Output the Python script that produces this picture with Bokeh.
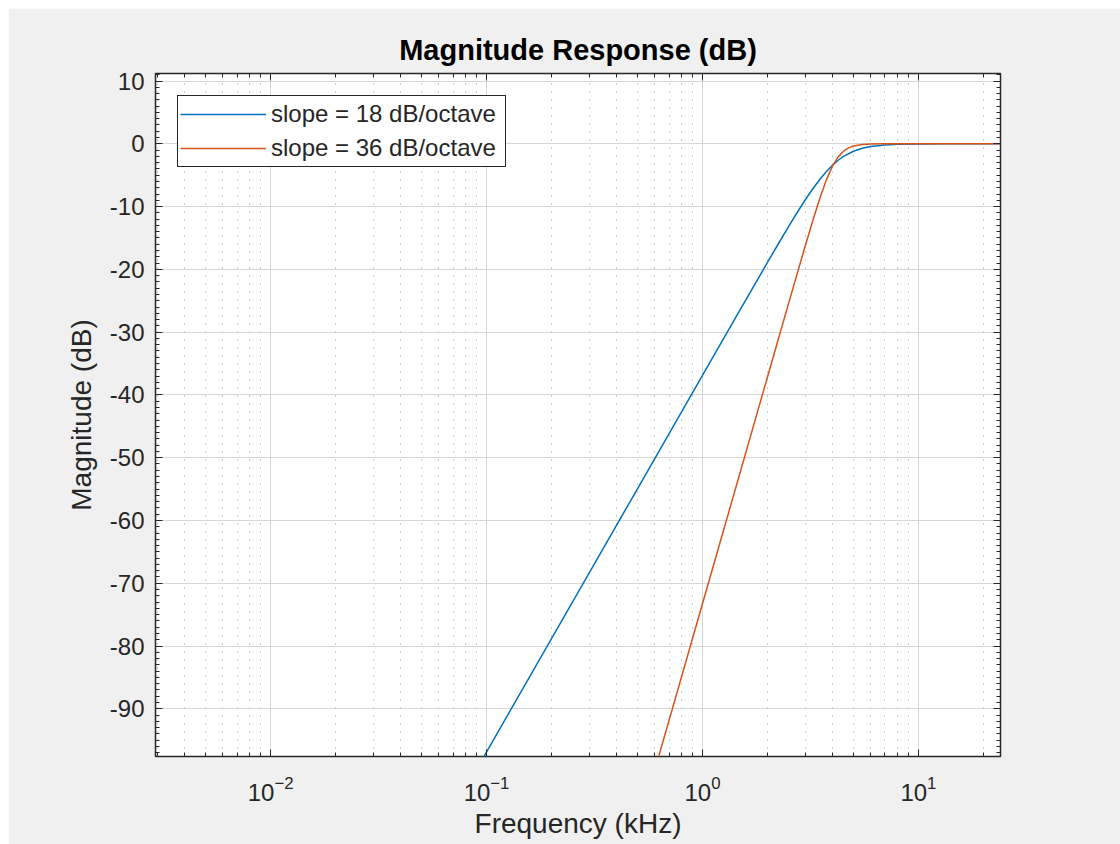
from bokeh.plotting import figure
from bokeh.models import (LogAxis, LinearAxis, FixedTicker, Legend, LegendItem,
                          Range1d)
from bokeh.embed import file_html
from bokeh.resources import INLINE

# ---- data (frequency in kHz, magnitude in dB) ----
freq_18 = [0.08, 0.5, 1.0, 1.25, 1.5, 2.0, 2.25, 2.5, 2.75, 3.0, 3.25, 3.5, 3.75,
           4.0, 4.25, 4.5, 5.0, 5.5, 6.0, 7.0, 8.0, 10.0, 14.0, 24.0]
mag_18 = [-102.7, -54.95, -36.89, -31.08, -26.34, -18.89, -15.88, -13.23, -10.90,
          -8.87, -7.12, -5.64, -4.41, -3.41, -2.62, -2.01, -1.18, -0.71, -0.43,
          -0.18, -0.08, -0.02, 0.0, 0.0]

freq_36 = [0.6, 1.0, 1.5, 2.0, 2.25, 2.5, 2.75, 3.0, 3.25, 3.5, 3.75, 4.0, 4.25,
           4.5, 4.75, 5.0, 5.5, 6.0, 7.0, 8.0, 24.0]
mag_36 = [-99.9, -73.28, -52.15, -37.15, -31.02, -25.54, -20.60, -16.13, -12.13,
          -8.63, -5.74, -3.56, -2.08, -1.17, -0.65, -0.36, -0.12, -0.04, -0.01,
          0.0, 0.0]

series_labels = ["slope = 18 dB/octave", "slope = 36 dB/octave"]
x_major = [0.001, 0.01, 0.1, 1.0, 10.0, 100.0]
y_major = [-90, -80, -70, -60, -50, -40, -30, -20, -10, 0, 10]

FONT = "Liberation Sans"
DARK = "#262626"

x_minor = [m * 10.0 ** e for e in range(-3, 2) for m in range(2, 10)]
y_minor = list(range(-97, 12))

xticker = FixedTicker(ticks=x_major, minor_ticks=x_minor)
yticker = FixedTicker(ticks=y_major, minor_ticks=y_minor)

p = figure(width=1112, height=836, x_axis_type="log",
           x_range=Range1d(0.00293, 24.0), y_range=Range1d(-97.6, 11.2),
           output_backend="svg", toolbar_location=None,
           min_border_left=147, min_border_right=120,
           min_border_top=65, min_border_bottom=88,
           background_fill_color="white", border_fill_color="#f0f0f0",
           outline_line_color=DARK, outline_line_width=1.5)
p.margin = (8, 0, 0, 8)

p.title.text = "Magnitude Response (dB)"
p.title.align = "center"
p.title.text_font = FONT
p.title.text_font_size = "29px"
p.title.text_font_style = "bold"
p.title.text_color = "#000000"
p.title.standoff = 16


def style_axis(ax, show_labels):
    ax.axis_line_color = None
    ax.major_tick_line_color = DARK
    ax.minor_tick_line_color = DARK
    ax.major_tick_in = 7
    ax.major_tick_out = 0
    ax.minor_tick_in = 4
    ax.minor_tick_out = 0
    ax.major_tick_line_width = 1
    ax.minor_tick_line_width = 1
    ax.major_label_text_font = FONT
    if show_labels:
        ax.major_label_text_font_size = "24px"
        ax.major_label_text_color = DARK
    else:
        ax.major_label_text_font_size = "8px"
        ax.major_label_text_color = None
        ax.major_label_standoff = 0


xa = p.xaxis[0]
xa.ticker = xticker
style_axis(xa, True)
xa.major_label_standoff = 19
xa.axis_label = "Frequency (kHz)"
xa.axis_label_text_font = FONT
xa.axis_label_text_font_size = "28px"
xa.axis_label_text_font_style = "normal"
xa.axis_label_text_color = DARK
xa.axis_label_standoff = 4

ya = p.yaxis[0]
ya.ticker = yticker
style_axis(ya, True)
ya.major_label_standoff = 11
ya.major_label_overrides = {v: str(v) for v in y_major}
ya.axis_label = "Magnitude (dB)"
ya.axis_label_text_font = FONT
ya.axis_label_text_font_size = "28px"
ya.axis_label_text_font_style = "normal"
ya.axis_label_text_color = DARK
ya.axis_label_standoff = 10

top = LogAxis(ticker=xticker)
style_axis(top, False)
p.add_layout(top, "above")

right = LinearAxis(ticker=yticker)
style_axis(right, False)
p.add_layout(right, "right")

p.xgrid.ticker = xticker
p.xgrid.grid_line_color = "#d6d6d6"
p.xgrid.grid_line_width = 1
p.xgrid.minor_grid_line_color = "#9a9a9a"
p.xgrid.minor_grid_line_dash = "1 7"
p.xgrid.minor_grid_line_width = 1

p.ygrid.ticker = yticker
p.ygrid.grid_line_color = "#d6d6d6"
p.ygrid.grid_line_width = 1
p.ygrid.minor_grid_line_color = None

r1 = p.line(freq_18, mag_18, line_color="#0072BD", line_width=1.5)
r2 = p.line(freq_36, mag_36, line_color="#D95319", line_width=1.5)

legend = Legend(items=[LegendItem(label=series_labels[0], renderers=[r1]),
                       LegendItem(label=series_labels[1], renderers=[r2])],
                location=(22, 589), padding=2, spacing=2, margin=0,
                glyph_width=86, glyph_height=32, label_height=32,
                label_width=232, label_standoff=5,
                label_text_font=FONT, label_text_font_size="24px",
                label_text_color=DARK,
                border_line_color=DARK, border_line_width=1.5,
                border_line_alpha=1.0,
                background_fill_color="white", background_fill_alpha=1.0)
p.add_layout(legend)

open("out.html", "w").write(file_html(p, INLINE))
